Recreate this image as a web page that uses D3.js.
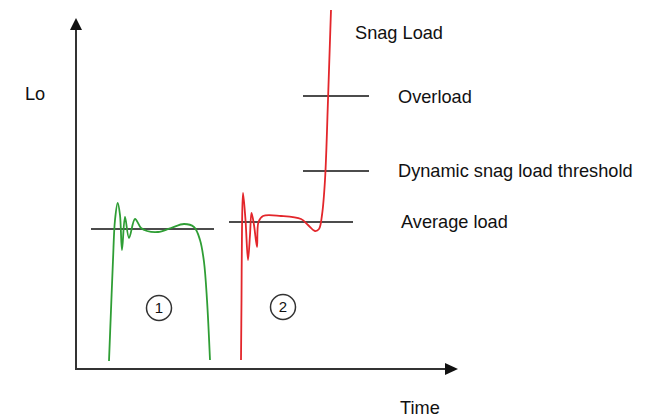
<!DOCTYPE html>
<html>
<head>
<meta charset="utf-8">
<script src="https://cdn.jsdelivr.net/npm/d3@7"></script>
<style>
  body { margin: 0; background: #fff; }
  text { font-family: "Liberation Sans", Arial, sans-serif; fill: #111; }
</style>
</head>
<body>
<svg id="chart"></svg>
<script>
// load traces: time and load in arbitrary units
const trace1Time = [33, 35, 37, 39, 41.7, 44, 46, 49, 53, 59, 65, 71, 82, 95, 108, 118, 124, 128, 131, 134];
const trace1Load = [8, 59, 109, 149, 166, 154, 119, 152, 131, 150, 141, 138, 137, 141, 145, 142, 129, 107, 69, 9];

const trace2Time = [165, 165.5, 166, 167, 169.5, 172, 174, 175.5, 178, 181, 182.5, 187, 205, 225, 232, 239, 243, 246, 249, 252, 254, 255];
const trace2Load = [9, 69, 139, 176, 149, 109, 134, 156, 144, 122, 147, 153, 153, 150, 144, 138, 140, 154, 189, 269, 329, 359];

// horizontal reference levels: [start time, end time, load]
const levelNames = ["Average load 1", "Average load 2", "Dynamic snag load threshold", "Overload"];
const levelStart = [15, 153, 227, 227];
const levelEnd = [138, 277, 293, 293];
const levelLoad = [140, 147, 198, 273];

// region markers
const markerLabels = ["1", "2"];
const markerTime = [83, 207];
const markerLoad = [61, 62];

const WIDTH = 646;
const HEIGHT = 418;
const X0 = 76, X1 = 458;   // axis origin / arrow tip
const Y0 = 369, Y1 = 18;

const x = d3.scaleLinear().domain([0, 382]).range([X0, X1]);
const y = d3.scaleLinear().domain([0, 351]).range([Y0, Y1]);

const svg = d3.select("#chart")
  .attr("width", WIDTH)
  .attr("height", HEIGHT);

// axes with arrow heads
svg.append("line")
  .attr("x1", X0).attr("y1", Y0 + 1)
  .attr("x2", X0).attr("y2", 28)
  .attr("stroke", "#333").attr("stroke-width", 2);
svg.append("path")
  .attr("d", `M${X0},${Y1} L${X0 - 6},30 L${X0 + 6},30 Z`)
  .attr("fill", "#111");
svg.append("line")
  .attr("x1", X0 - 1).attr("y1", Y0)
  .attr("x2", 447).attr("y2", Y0)
  .attr("stroke", "#333").attr("stroke-width", 2);
svg.append("path")
  .attr("d", `M${X1},${Y0} L445,${Y0 - 6} L445,${Y0 + 6} Z`)
  .attr("fill", "#111");

// reference lines
svg.selectAll(".level")
  .data(levelNames)
  .enter()
  .append("line")
  .attr("class", "level")
  .attr("x1", (d, i) => x(levelStart[i]))
  .attr("x2", (d, i) => x(levelEnd[i]))
  .attr("y1", (d, i) => y(levelLoad[i]))
  .attr("y2", (d, i) => y(levelLoad[i]))
  .attr("stroke", "#111")
  .attr("stroke-width", 1.5);

// load traces
const line = d3.line()
  .x(d => x(d[0]))
  .y(d => y(d[1]))
  .curve(d3.curveCatmullRom.alpha(0.5));

svg.append("path")
  .datum(trace1Time.map((t, i) => [t, trace1Load[i]]))
  .attr("d", line)
  .attr("fill", "none")
  .attr("stroke", "#2f9e35")
  .attr("stroke-width", 1.8);

svg.append("path")
  .datum(trace2Time.map((t, i) => [t, trace2Load[i]]))
  .attr("d", line)
  .attr("fill", "none")
  .attr("stroke", "#e3262b")
  .attr("stroke-width", 1.8);

// circled region numbers
const markers = svg.selectAll(".marker")
  .data(markerLabels)
  .enter()
  .append("g")
  .attr("class", "marker")
  .attr("transform", (d, i) => `translate(${x(markerTime[i])},${y(markerLoad[i])})`);
markers.append("circle")
  .attr("r", 12.5)
  .attr("fill", "#fff")
  .attr("stroke", "#333")
  .attr("stroke-width", 1.5);
markers.append("text")
  .attr("text-anchor", "middle")
  .attr("dy", "0.36em")
  .attr("font-size", "15px")
  .text(d => d);

// annotation texts
const notes = [
  { text: "Lo", x: 25, y: 100 },
  { text: "Time", x: 400, y: 414 },
  { text: "Snag Load", x: 355, y: 39 },
  { text: "Overload", x: 398, y: 103 },
  { text: "Dynamic snag load threshold", x: 398, y: 177 },
  { text: "Average load", x: 401, y: 228 }
];
svg.selectAll(".note")
  .data(notes)
  .enter()
  .append("text")
  .attr("class", "note")
  .attr("x", d => d.x)
  .attr("y", d => d.y)
  .attr("font-size", "18.2px")
  .text(d => d.text);
</script>
</body>
</html>
